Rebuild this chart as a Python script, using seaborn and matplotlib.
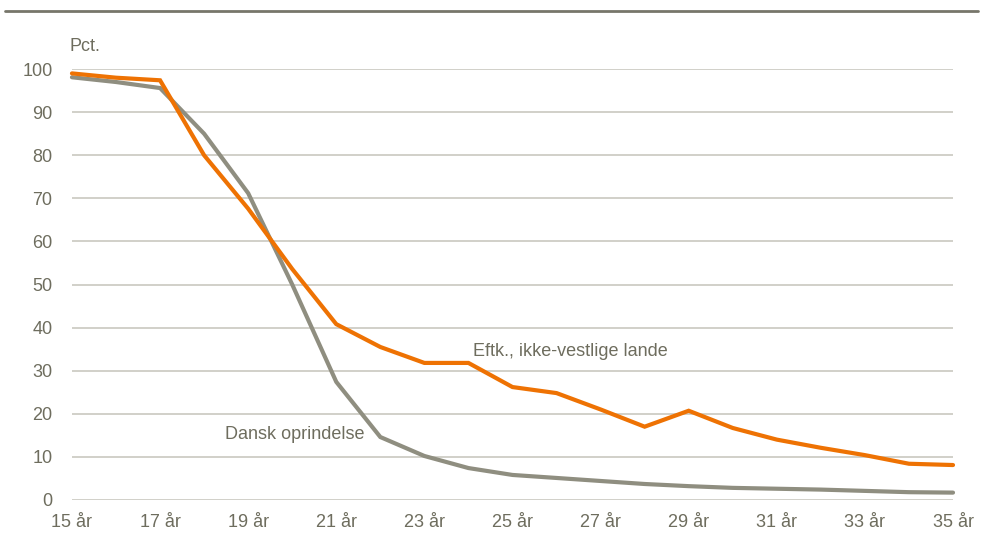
import pandas as pd
import matplotlib.pyplot as plt
import seaborn as sns
from matplotlib.lines import Line2D

# Ages (x axis)
ages = list(range(15, 36))

# Share in pct. by age
ikke_vestlige = [99.0, 98.0, 97.4, 80.0, 67.6, 53.6, 40.8, 35.5, 31.8, 31.8, 26.2,
                 24.8, 21.0, 17.0, 20.7, 16.7, 14.0, 12.1, 10.4, 8.4, 8.1]
dansk = [98.1, 97.0, 95.6, 85.0, 71.2, 50.0, 27.4, 14.6, 10.2, 7.4, 5.8,
         5.1, 4.4, 3.7, 3.2, 2.8, 2.6, 2.4, 2.1, 1.8, 1.7]

series_names = ["Eftk., ikke-vestlige lande", "Dansk oprindelse"]
tick_ages = list(range(15, 36, 2))
tick_labels = [f"{a} år" for a in tick_ages]

df = pd.DataFrame({
    "Alder": ages * 2,
    "Pct": ikke_vestlige + dansk,
    "Gruppe": [series_names[0]] * len(ages) + [series_names[1]] * len(ages),
})

sns.set_style("white")
plt.rcParams['font.family'] = ['Liberation Sans Narrow', 'Liberation Sans', 'DejaVu Sans']

text_col = "#6e6d5e"
orange = "#ee7203"
grey = "#8f8e80"

fig = plt.figure(figsize=(9.83, 5.44), dpi=100)
ax = fig.add_axes([0.0732, 0.081, 0.8963, 0.792])

sns.lineplot(data=df, x="Alder", y="Pct", hue="Gruppe",
             palette={series_names[0]: orange, series_names[1]: grey},
             hue_order=[series_names[1], series_names[0]],
             linewidth=3, legend=False, ax=ax)
for ln in ax.lines:
    ln.set_clip_on(False)
    ln.set_solid_joinstyle("miter")

ax.set_xlim(15, 35)
ax.set_ylim(0, 100)
ax.set_yticks(range(0, 101, 10))
ax.set_xticks(tick_ages)
ax.set_xticklabels(tick_labels)
ax.grid(axis="y", color="#c9c8c0", linewidth=1.2)
ax.set_axisbelow(True)
for s in ax.spines.values():
    s.set_visible(False)
ax.tick_params(axis="both", length=0, labelsize=13, colors=text_col)
ax.tick_params(axis="y", pad=14)
ax.tick_params(axis="x", pad=10)
ax.set_xlabel("")
ax.set_ylabel("")

fig.text(0.071, 0.915, "Pct.", fontsize=13, color=text_col, va="center", ha="left")
ax.text(20.06, 15.1, series_names[1], fontsize=13, color=text_col, va="center", ha="center")
ax.text(24.1, 34.4, series_names[0], fontsize=13, color=text_col, va="center", ha="left")

# Top rule
fig.add_artist(Line2D([0.005, 0.995], [0.98, 0.98], transform=fig.transFigure,
                      color="#77766a", linewidth=2))

plt.savefig("out.png", dpi=100)
